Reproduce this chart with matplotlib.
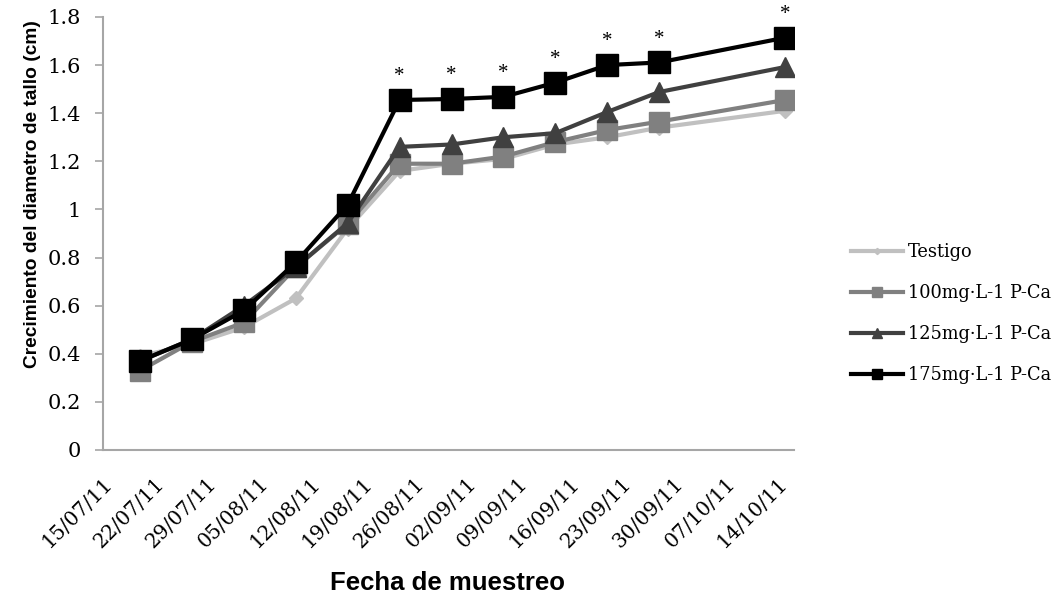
import datetime as dt
import matplotlib
matplotlib.use('Agg')
import matplotlib.pyplot as plt
import matplotlib.dates as mdates
from matplotlib.ticker import FuncFormatter

# sampling dates (days after 15/07/11)
start = dt.datetime(2011, 7, 15)
sample_days = [5, 12, 19, 26, 33, 40, 47, 54, 61, 68, 75, 92]
fechas = [start + dt.timedelta(days=d) for d in sample_days]

testigo = [0.39, 0.44, 0.51, 0.63, 0.92, 1.16, 1.19, 1.21, 1.27, 1.30, 1.34, 1.41]
pca_100 = [0.33, 0.45, 0.53, 0.76, 0.94, 1.19, 1.19, 1.22, 1.28, 1.33, 1.365, 1.455]
pca_125 = [0.37, 0.46, 0.60, 0.76, 0.943, 1.26, 1.27, 1.30, 1.317, 1.405, 1.488, 1.592]
pca_175 = [0.37, 0.46, 0.58, 0.78, 1.02, 1.455, 1.459, 1.468, 1.527, 1.60, 1.611, 1.714]
signif = [5, 6, 7, 8, 9, 10, 11]   # points marked with *

serif = ['DejaVu Serif']
sans = ['Liberation Sans', 'DejaVu Sans']

fig = plt.figure(figsize=(10.58, 5.96), dpi=100)
ax = fig.add_axes([0.0974, 0.245, 0.6531, 0.7265])

ax.plot(fechas, testigo, color='#c0c0c0', lw=3, marker='D', ms=7, label='Testigo', zorder=2)
ax.plot(fechas, pca_100, color='#808080', lw=3, marker='s', ms=15, label='100mg\u00b7L-1 P-Ca', zorder=3)
ax.plot(fechas, pca_125, color='#404040', lw=3, marker='^', ms=15, label='125mg\u00b7L-1 P-Ca', zorder=4)
ax.plot(fechas, pca_175, color='#000000', lw=3, marker='s', ms=16, label='175mg\u00b7L-1 P-Ca', zorder=5)

for i in signif:
    ax.annotate('*', (fechas[i], pca_175[i]), xytext=(0, 10), textcoords='offset points',
                ha='center', va='bottom', fontsize=15, family=['Liberation Serif'])

ax.set_ylim(0, 1.8)
ax.set_yticks([0, 0.2, 0.4, 0.6, 0.8, 1.0, 1.2, 1.4, 1.6, 1.8])
ax.yaxis.set_major_formatter(FuncFormatter(lambda v, p: '{:g}'.format(round(v, 1))))

ax.set_xlim(start, start + dt.timedelta(days=93.2))
ax.set_xticks([start + dt.timedelta(days=7 * k) for k in range(14)])
ax.xaxis.set_major_formatter(mdates.DateFormatter('%d/%m/%y'))

ax.tick_params(axis='y', length=6, color='#a6a6a6', width=1.2, pad=10)
ax.tick_params(axis='x', length=0, pad=17)

for lbl in ax.get_yticklabels():
    lbl.set_family(serif)
    lbl.set_fontsize(15)
for lbl in ax.get_xticklabels():
    lbl.set_family(serif)
    lbl.set_fontsize(14.5)
    lbl.set_rotation(45)
    lbl.set_ha('right')
    lbl.set_va('top')
    lbl.set_rotation_mode('anchor')

for s in ['top', 'right']:
    ax.spines[s].set_visible(False)
for s in ['left', 'bottom']:
    ax.spines[s].set_color('#a6a6a6')
    ax.spines[s].set_linewidth(1.5)

ax.set_ylabel('Crecimiento del diametro de tallo (cm)', family=sans, fontweight='bold', fontsize=13.8)
ax.yaxis.set_label_coords(-0.09, 0.591)
ax.set_xlabel('Fecha de muestreo', family=sans, fontweight='bold', fontsize=18.5)
ax.xaxis.set_label_coords(0.498, -0.28)

leg = ax.legend(loc='upper left', bbox_to_anchor=(851 / 1058, 1 - 243 / 596), bbox_transform=fig.transFigure,
                frameon=False, prop={'family': serif, 'size': 12.8}, markerscale=0.45,
                handlelength=2.9, handletextpad=0.3, labelspacing=1.3, borderpad=0, borderaxespad=0)

fig.savefig('out.png', dpi=100)
